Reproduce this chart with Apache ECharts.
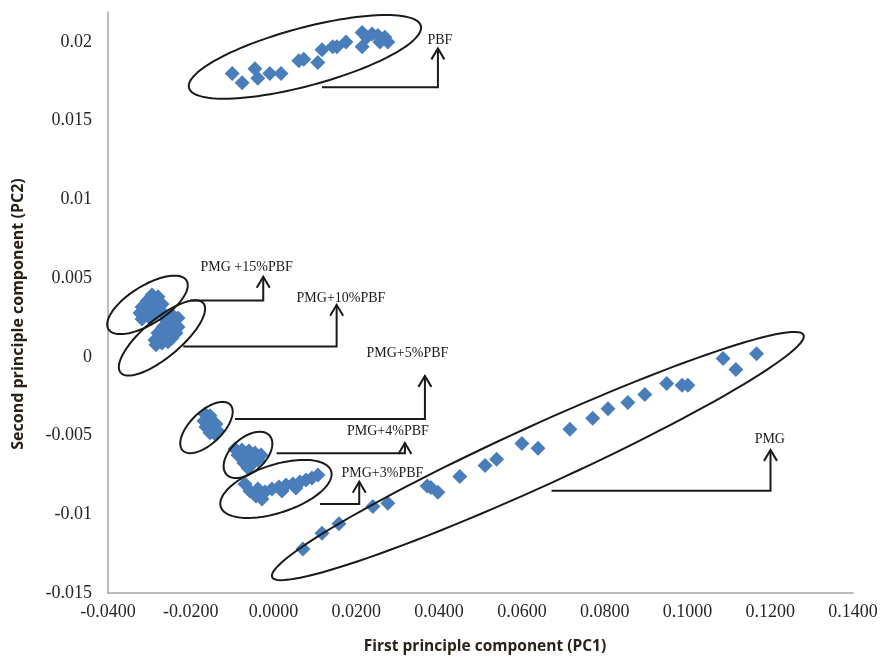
<!DOCTYPE html>
<html>
<head>
<meta charset="utf-8">
<script src="https://cdn.jsdelivr.net/npm/echarts@6/dist/echarts.min.js"></script>
<style>
  html, body { margin: 0; padding: 0; background: #fff; }
  #chart { width: 882px; height: 657px; }
</style>
</head>
<body>
<div id="chart"></div>
<script>
// PCA scores: [PC1, PC2] for each sample group
const pbf = [
  [-0.0100, 0.0180], [-0.0076, 0.0174], [-0.0045, 0.0183], [-0.0038, 0.0177],
  [-0.0009, 0.0180], [0.0018, 0.0180], [0.0061, 0.0188], [0.0073, 0.0189],
  [0.0107, 0.0187], [0.0117, 0.0195], [0.0143, 0.0197], [0.0153, 0.0197],
  [0.0175, 0.0200], [0.0214, 0.0206], [0.0214, 0.0197], [0.0225, 0.0203],
  [0.0238, 0.0205], [0.0252, 0.0204], [0.0269, 0.0203], [0.0276, 0.0200],
  [0.0257, 0.0200]
];
const pmg15 = [
  [-0.02937, 0.00393], [-0.02792, 0.00381], [-0.03058, 0.00355], [-0.02865, 0.00349],
  [-0.02696, 0.00336], [-0.03179, 0.00317], [-0.02986, 0.00311], [-0.02792, 0.00304],
  [-0.03227, 0.00279], [-0.03034, 0.00273], [-0.02841, 0.00273], [-0.02696, 0.00285],
  [-0.03179, 0.00241], [-0.02986, 0.00247]
];
const pmg10 = [
  [-0.02454, 0.00266], [-0.02309, 0.00247], [-0.02599, 0.00234], [-0.02406, 0.00215],
  [-0.02309, 0.00190], [-0.02671, 0.00190], [-0.02502, 0.00171], [-0.02357, 0.00152],
  [-0.02792, 0.00152], [-0.02599, 0.00133], [-0.02454, 0.00120], [-0.02865, 0.00107],
  [-0.02696, 0.00088], [-0.02551, 0.00095], [-0.02841, 0.00076]
];
const pmg5 = [
  [-0.01657, -0.00363], [-0.01536, -0.00375], [-0.01681, -0.00407], [-0.01512, -0.00414],
  [-0.01391, -0.00426], [-0.01633, -0.00445], [-0.01464, -0.00458], [-0.01343, -0.00471],
  [-0.01536, -0.00483], [-0.01415, -0.00490]
];
const pmg4 = [
  [-0.00932, -0.00585], [-0.00763, -0.00591], [-0.00594, -0.00598], [-0.00449, -0.00611],
  [-0.00304, -0.00623], [-0.00860, -0.00623], [-0.00667, -0.00636], [-0.00498, -0.00642],
  [-0.00377, -0.00655], [-0.00715, -0.00674], [-0.00546, -0.00687], [-0.00618, -0.00706]
];
const pmg3 = [
  [-0.00691, -0.00807], [-0.00570, -0.00852], [-0.00425, -0.00884], [-0.00280, -0.00903],
  [-0.00377, -0.00839], [-0.00208, -0.00858], [-0.00039, -0.00839], [0.00130, -0.00827],
  [0.00300, -0.00814], [0.00469, -0.00807], [0.00638, -0.00795], [0.00783, -0.00782],
  [0.00928, -0.00769], [0.01072, -0.00750], [0.00203, -0.00852], [0.00541, -0.00833]
];
const pmg = [
  [0.0071, -0.0122], [0.0117, -0.0112], [0.0158, -0.0106], [0.0240, -0.0095],
  [0.0276, -0.0093], [0.0371, -0.0082], [0.0380, -0.0083], [0.0397, -0.0086],
  [0.0450, -0.0076], [0.0511, -0.0069], [0.0539, -0.0065], [0.0600, -0.0055],
  [0.0639, -0.0058], [0.0716, -0.0046], [0.0771, -0.0039], [0.0808, -0.0033],
  [0.0856, -0.0029], [0.0897, -0.0024], [0.0950, -0.0017], [0.0987, -0.0018],
  [0.1001, -0.0018], [0.1086, -0.0001], [0.1117, -0.0008], [0.1167, 0.0002]
];

// Group outlines: centre in data units, semi-axes in pixels, tilt in degrees
const ellipses = [
  { center: [0.00758, 0.01905], rx: 120, ry: 29, angle: -15 },
  { center: [-0.03046, 0.00330], rx: 46, ry: 19, angle: -32 },
  { center: [-0.02696, 0.00120], rx: 54, ry: 19, angle: -40 },
  { center: [-0.01621, -0.00449], rx: 33, ry: 16, angle: -44 },
  { center: [-0.00618, -0.00623], rx: 29, ry: 17, angle: -42 },
  { center: [0.00058, -0.00839], rx: 58, ry: 24, angle: -18 },
  { center: [0.06386, -0.00630], rx: 292, ry: 30, angle: -24.5 }
];

// Elbow callouts: start point, corner x, arrow tip y, label and its anchor
const callouts = [
  { start: [0.01169, 0.01712], cornerX: 0.03971, tipY: 0.01959, text: 'PBF', at: [0.04019, 0.02007] },
  { start: [-0.02019, 0.00357], cornerX: -0.00249, tipY: 0.00508, text: 'PMG +15%PBF', at: [-0.00650, 0.00571] },
  { start: [-0.02181, 0.00065], cornerX: 0.01524, tipY: 0.00330, text: 'PMG+10%PBF', at: [0.01628, 0.00374] },
  { start: [-0.00932, -0.00395], cornerX: 0.03657, tipY: -0.00121, text: 'PMG+5%PBF', at: [0.03234, 0.00023] },
  { start: [0.00075, -0.00612], cornerX: 0.03174, tipY: -0.00547, text: 'PMG+4%PBF', at: [0.02763, -0.00475] },
  { start: [0.01121, -0.00935], cornerX: 0.02070, tipY: -0.00793, text: 'PMG+3%PBF', at: [0.02630, -0.00740] },
  { start: [0.06717, -0.00850], cornerX: 0.12007, tipY: -0.00591, text: 'PMG', at: [0.11990, -0.00524] }
];

const groups = [pbf, pmg15, pmg10, pmg5, pmg4, pmg3, pmg];

const serif = '"Liberation Serif", "Times New Roman", serif';
const sans = '"Open Sans", "Noto Sans", sans-serif';
const ink = '#1a1a1a';

function fmtY(v) {
  const k = v / 0.005;
  if (Math.abs(k - Math.round(k)) > 1e-6) return '';
  const r = Math.round(k) * 0.005;
  return Math.abs(r) < 1e-12 ? '0' : String(parseFloat(r.toFixed(4)));
}
function fmtX(v) {
  return (Math.abs(v) < 1e-12 ? 0 : v).toFixed(4);
}

const scatterSeries = groups.map(g => ({
  type: 'scatter',
  data: g,
  symbol: 'diamond',
  symbolSize: 15,
  itemStyle: { color: '#4a7ebb', opacity: 1 },
  z: 2
}));

const ellipseSeries = {
  type: 'custom',
  coordinateSystem: 'cartesian2d',
  data: ellipses.map(e => e.center),
  z: 3,
  renderItem(params, api) {
    const e = ellipses[params.dataIndex];
    const c = api.coord(e.center);
    const th = e.angle * Math.PI / 180;
    const pts = [];
    for (let i = 0; i < 120; i++) {
      const t = i / 120 * Math.PI * 2;
      const ex = e.rx * Math.cos(t), ey = e.ry * Math.sin(t);
      pts.push([c[0] + ex * Math.cos(th) - ey * Math.sin(th),
                c[1] + ex * Math.sin(th) + ey * Math.cos(th)]);
    }
    return {
      type: 'polygon',
      shape: { points: pts },
      style: { fill: 'none', stroke: ink, lineWidth: 2 }
    };
  }
};

const calloutSeries = {
  type: 'custom',
  coordinateSystem: 'cartesian2d',
  data: callouts.map(c => c.start),
  z: 4,
  renderItem(params, api) {
    const c = callouts[params.dataIndex];
    const p0 = api.coord(c.start);
    const p1 = api.coord([c.cornerX, c.start[1]]);
    const p2 = api.coord([c.cornerX, c.tipY]);
    const lab = api.coord(c.at);
    return {
      type: 'group',
      children: [
        {
          type: 'polyline',
          shape: { points: [p0, p1, p2] },
          style: { fill: 'none', stroke: ink, lineWidth: 2 }
        },
        {
          type: 'polyline',
          shape: { points: [[p2[0] - 6.5, p2[1] + 11], p2, [p2[0] + 6.5, p2[1] + 11]] },
          style: { fill: 'none', stroke: ink, lineWidth: 2 }
        },
        {
          type: 'text',
          x: lab[0], y: lab[1],
          style: {
            text: c.text, fill: ink, font: '14px ' + serif,
            align: 'center', verticalAlign: 'middle'
          }
        }
      ]
    };
  }
};

const chart = echarts.init(document.getElementById('chart'), null, { renderer: 'canvas' });
chart.setOption({
  animation: false,
  backgroundColor: '#ffffff',
  grid: { left: 108, right: 29, top: 12, bottom: 64, containLabel: false },
  xAxis: {
    type: 'value',
    min: -0.04, max: 0.14, interval: 0.02,
    splitLine: { show: false },
    axisTick: { show: false },
    axisLine: { onZero: false, lineStyle: { color: '#a6a6a6', width: 1.5 } },
    axisLabel: { formatter: fmtX, color: '#262626', fontFamily: serif, fontSize: 18, margin: 10 }
  },
  yAxis: {
    type: 'value',
    min: -0.015, max: 0.0219, interval: 0.005,
    splitLine: { show: false },
    axisTick: { show: false },
    axisLine: { show: true, onZero: false, lineStyle: { color: '#a6a6a6', width: 1.5 } },
    axisLabel: { formatter: fmtY, color: '#262626', fontFamily: serif, fontSize: 18, margin: 16 }
  },
  graphic: [
    {
      type: 'text', x: 485, y: 647,
      style: { text: 'First principle component (PC1)', fill: '#2a2118', font: 'bold 15.5px ' + sans,
               align: 'center', verticalAlign: 'middle' }
    },
    {
      type: 'text', x: 18, y: 314, rotation: Math.PI / 2,
      style: { text: 'Second principle component (PC2)', fill: '#2a2118', font: 'bold 16px ' + sans,
               align: 'center', verticalAlign: 'middle' }
    }
  ],
  series: [...scatterSeries, ellipseSeries, calloutSeries]
});
</script>
</body>
</html>
